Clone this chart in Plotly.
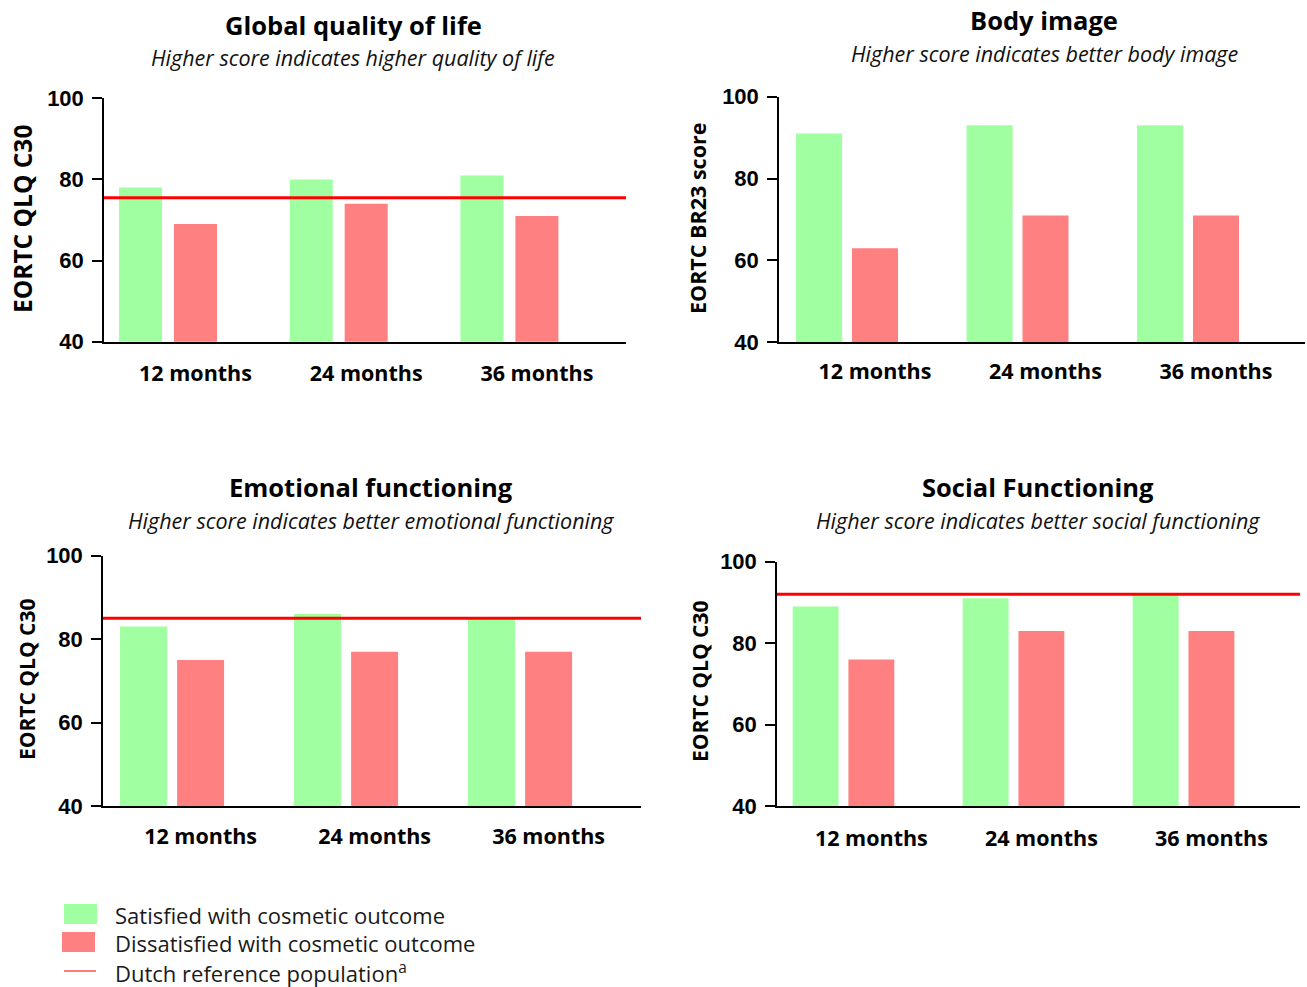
import plotly.graph_objects as go

W, H = 1307, 987

months = ["12 months", "24 months", "36 months"]
titles = ["Global quality of life", "Body image", "Emotional functioning", "Social Functioning"]
subtitles = [
    "Higher score indicates higher quality of life",
    "Higher score indicates better body image",
    "Higher score indicates better emotional functioning",
    "Higher score indicates better social functioning",
]
ytitles = ["EORTC QLQ C30", "EORTC BR23 score", "EORTC QLQ C30", "EORTC QLQ C30"]
satisfied = [
    [78, 80, 81],
    [91, 93, 93],
    [83, 86, 85],
    [89, 91, 92],
]
dissatisfied = [
    [69, 74, 71],
    [63, 71, 71],
    [75, 77, 77],
    [76, 83, 83],
]
reference = [75.5, None, 85, 92]
yticks = [40, 60, 80, 100]
legend_labels = ["Satisfied with cosmetic outcome", "Dissatisfied with cosmetic outcome",
                 "Dutch reference population<sup>a</sup>"]

GREEN = "#A0FFA0"
RED = "#FF8080"
LINE = "#FF0000"
FONT = "Open Sans"
NUMFONT = "Liberation Sans"

panels = [
    dict(px=(104, 626), py=(98.3, 341.7), xr=(-0.375, 2.683), bw=0.252, off=0.161, so=12,
         tx=353, ty=25, sy=58, ytx=22, yty=219, yts=24.5),
    dict(px=(779, 1305), py=(96.7, 342.3), xr=(-0.399, 2.686), bw=0.27, off=0.164, so=9,
         tx=1044, ty=20, sy=54, ytx=697, yty=219, yts=21.5),
    dict(px=(103, 641), py=(555.7, 806), xr=(-0.397, 2.695), bw=0.27, off=0.164, so=10,
         tx=371, ty=487, sy=520, ytx=27, yty=680, yts=21),
    dict(px=(777, 1300), py=(561.7, 806), xr=(-0.391, 2.685), bw=0.27, off=0.164, so=12,
         tx=1038, ty=487, sy=520, ytx=700, yty=682, yts=21),
]

fig = go.Figure()
annotations = []
shapes = []

xpos = list(range(len(months)))

for i, p in enumerate(panels):
    sfx = "" if i == 0 else str(i + 1)
    xa, ya = "x" + sfx, "y" + sfx
    fig.add_trace(go.Bar(x=xpos, y=satisfied[i], xaxis=xa, yaxis=ya, marker_color=GREEN,
                         marker_line_width=0, width=p["bw"], offset=-p["off"] - p["bw"] / 2,
                         name=legend_labels[0], showlegend=False))
    fig.add_trace(go.Bar(x=xpos, y=dissatisfied[i], xaxis=xa, yaxis=ya, marker_color=RED,
                         marker_line_width=0, width=p["bw"], offset=p["off"] - p["bw"] / 2,
                         name=legend_labels[1], showlegend=False))
    if reference[i] is not None:
        fig.add_trace(go.Scatter(x=list(p["xr"]), y=[reference[i]] * 2, xaxis=xa, yaxis=ya,
                                 mode="lines", line=dict(color=LINE, width=3),
                                 showlegend=False, cliponaxis=False, hoverinfo="skip"))
    xdom = [p["px"][0] / W, p["px"][1] / W]
    ydom = [1 - p["py"][1] / H, 1 - p["py"][0] / H]
    fig.update_layout(**{
        "xaxis" + sfx: dict(domain=xdom, range=list(p["xr"]), anchor=ya, showgrid=False,
                            zeroline=False, showline=True, linecolor="#000", linewidth=1.5,
                            ticks="", tickvals=[v + p["off"] for v in xpos], ticktext=months,
                            tickfont=dict(family=FONT, size=21.5, color="#000", weight="bold"),
                            ticklabelstandoff=p["so"], automargin=False, fixedrange=True),
        "yaxis" + sfx: dict(domain=ydom, range=[40, 100], anchor=xa, showgrid=False,
                            zeroline=False, showline=True, linecolor="#000", linewidth=1.5,
                            ticks="outside", ticklen=10, tickwidth=1.5, tickcolor="#000",
                            tickvals=yticks,
                            tickfont=dict(family=NUMFONT, size=22, color="#000", weight="bold"),
                            ticklabelstandoff=4, automargin=False, fixedrange=True),
    })
    annotations.append(dict(text=titles[i], x=p["tx"] / W, y=1 - p["ty"] / H, xref="paper", yref="paper",
                            xanchor="center", yanchor="middle", showarrow=False,
                            font=dict(family=FONT, size=25.5, color="#000", weight="bold")))
    annotations.append(dict(text=subtitles[i], x=p["tx"] / W, y=1 - p["sy"] / H, xref="paper", yref="paper",
                            xanchor="center", yanchor="middle", showarrow=False,
                            font=dict(family=FONT, size=21.5, color="#111", style="italic")))
    annotations.append(dict(text=ytitles[i], x=p["ytx"] / W, y=1 - p["yty"] / H, xref="paper", yref="paper",
                            xanchor="center", yanchor="middle", showarrow=False, textangle=-90,
                            font=dict(family=FONT, size=p["yts"], color="#000", weight="bold")))

# manual legend
leg_rows = [(914, "rect", GREEN, 64, 97), (942, "rect", RED, 62, 95), (971, "line", "#FF5050", 64, 96)]
for (cy, kind, col, lx0, lx1), lab in zip(leg_rows, legend_labels):
    if kind == "rect":
        shapes.append(dict(type="rect", xref="paper", yref="paper", x0=lx0 / W, x1=lx1 / W,
                           y0=1 - (cy + 10) / H, y1=1 - (cy - 10) / H, fillcolor=col, line_width=0))
    else:
        shapes.append(dict(type="line", xref="paper", yref="paper", x0=lx0 / W, x1=lx1 / W,
                           y0=1 - cy / H, y1=1 - cy / H, line=dict(color=col, width=1.5)))
    annotations.append(dict(text=lab, x=113 / W, y=1 - (cy + 1) / H, xref="paper", yref="paper",
                            xanchor="left", yanchor="middle", showarrow=False,
                            font=dict(family=FONT, size=22, color="#1a1a1a")))

fig.update_layout(width=W, height=H, margin=dict(l=0, r=0, t=0, b=0, autoexpand=False),
                  paper_bgcolor="white", plot_bgcolor="white", barmode="overlay",
                  annotations=annotations, shapes=shapes, showlegend=False)

fig.write_html("out.html", config={"displayModeBar": False},
               post_script="document.body.style.margin='0';document.body.style.overflow='hidden';")
